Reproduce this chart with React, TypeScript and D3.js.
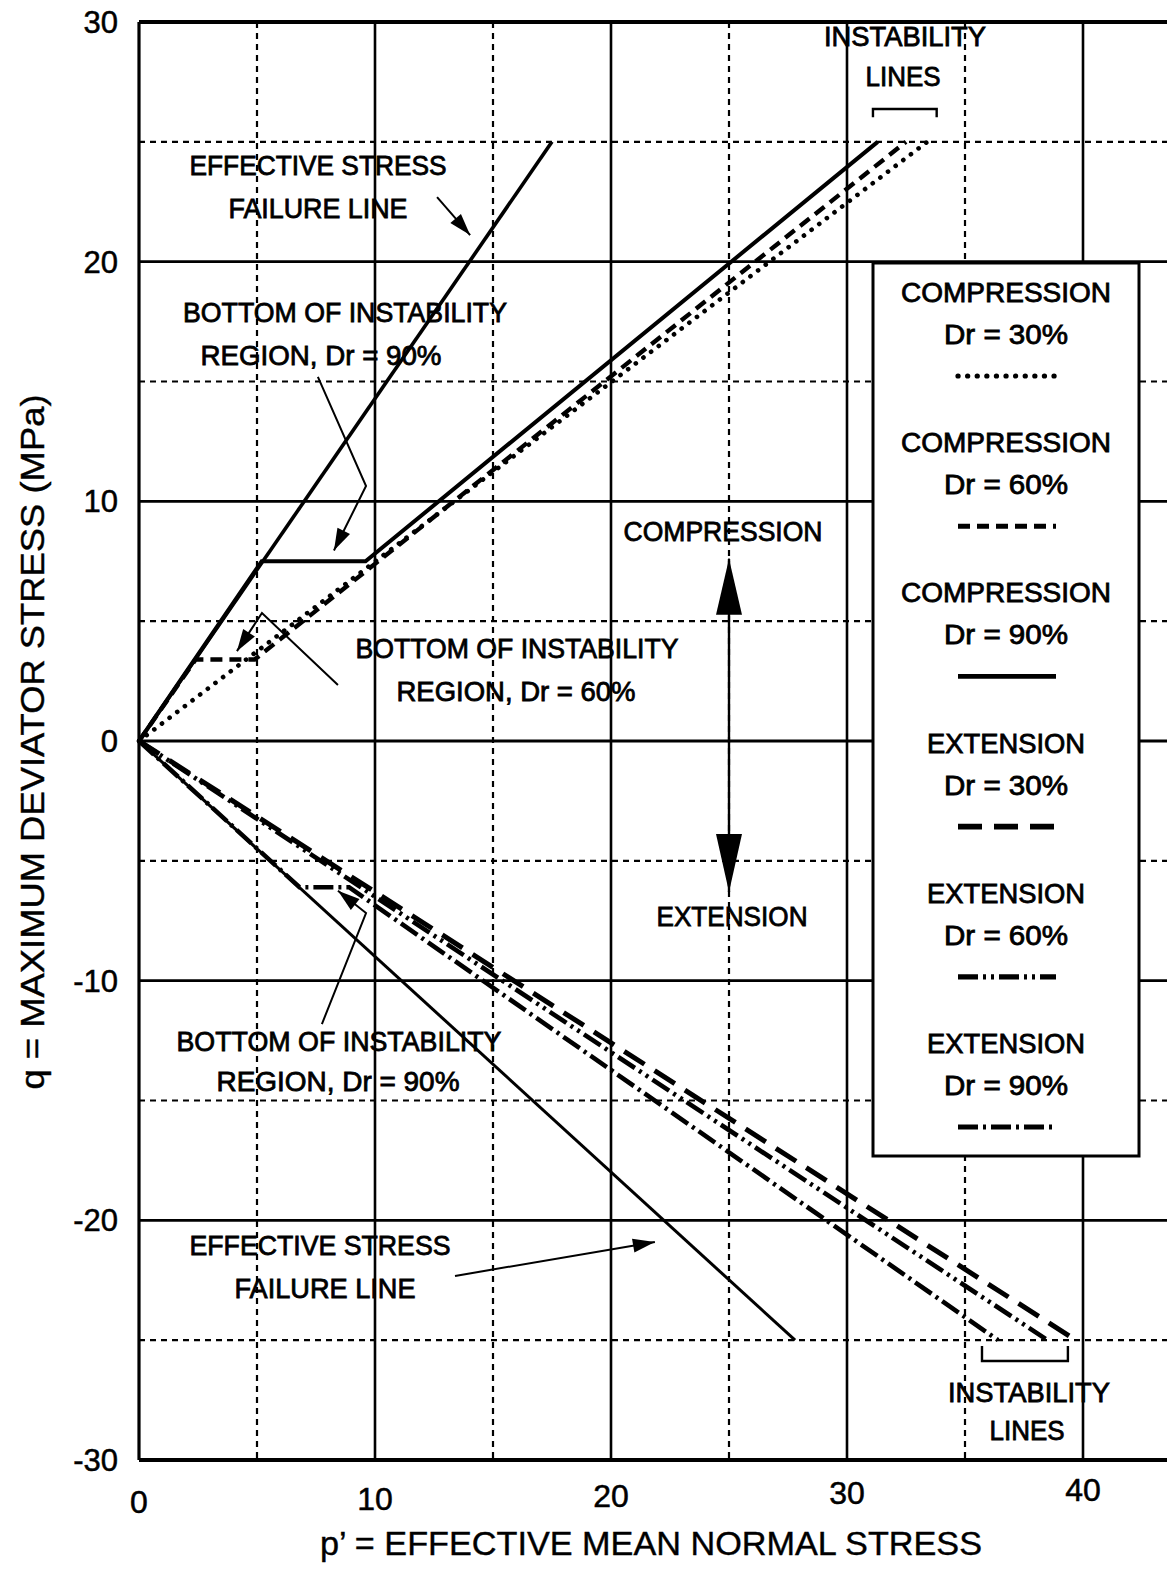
import React from 'react';
import * as d3 from 'd3';

type Pt = [number, number];

// axis ticks
const xTicks = [0, 10, 20, 30, 40];
const yTicks = [30, 20, 10, 0, -10, -20, -30];
const xMinor = [5, 15, 25, 35];
const yMinor = [25, 15, 5, -5, -15, -25];

// curves (p', q) in MPa
const compFailure: Pt[] = [[0, 0], [17.5, 25]];
const comp30: Pt[] = [[0, 0], [33.4, 25]];
const comp60: Pt[] = [[0, 0], [2.4, 3.4], [4.9, 3.4], [32.5, 25]];
const comp90: Pt[] = [[0, 0], [5.2, 7.5], [9.6, 7.5], [31.3, 25]];
const extFailure: Pt[] = [[0, 0], [27.8, -25]];
const ext30: Pt[] = [[0, 0], [39.7, -25]];
const ext60: Pt[] = [[0, 0], [38.5, -25]];
const ext90: Pt[] = [[0, 0], [6.8, -6.1], [8.9, -6.1], [36.4, -25]];

const legendNames = ['COMPRESSION', 'COMPRESSION', 'COMPRESSION', 'EXTENSION', 'EXTENSION', 'EXTENSION'];
const legendDr = ['Dr = 30%', 'Dr = 60%', 'Dr = 90%', 'Dr = 30%', 'Dr = 60%', 'Dr = 90%'];

// pointer arrows (data coords)
const arrowFailTop: Pt[] = [[12.63, 22.69], [14.03, 21.11]];
const arrowBottom90Top: Pt[] = [[7.58, 15.19], [9.62, 10.64], [8.26, 7.95]];
const arrowBottom60: Pt[] = [[8.43, 2.34], [5.21, 5.34], [4.15, 3.75]];
const arrowBottom90Ext: Pt[] = [[7.75, -11.81], [9.62, -7.18], [8.43, -6.25]];
const arrowFailExt: Pt[] = [[13.39, -22.32], [21.86, -20.9]];
const dirArrow: Pt[] = [[25, 7.6], [25, -6.3]];
const bracketTop: Pt[] = [[31.1, 26.03], [31.1, 26.37], [33.8, 26.37], [33.8, 26.03]];
const bracketBottom: Pt[] = [[35.72, -25.24], [35.72, -25.87], [39.36, -25.87], [39.36, -25.24]];

// annotation text: [text, centerX px, centerY px, width px]
const notes: [string, number, number, number][] = [
  ['INSTABILITY', 905, 36, 162],
  ['LINES', 903, 76, 75],
  ['EFFECTIVE STRESS', 318, 165, 257],
  ['FAILURE LINE', 318, 208, 179],
  ['BOTTOM OF INSTABILITY', 345, 312, 324],
  ['REGION, Dr = 90%', 321, 355, 241],
  ['COMPRESSION', 723, 531, 199],
  ['BOTTOM OF INSTABILITY', 517, 648, 323],
  ['REGION, Dr = 60%', 516, 691, 239],
  ['EXTENSION', 732, 916, 151],
  ['BOTTOM OF INSTABILITY', 339, 1041, 325],
  ['REGION, Dr = 90%', 338, 1081, 243],
  ['EFFECTIVE STRESS', 320, 1245, 261],
  ['FAILURE LINE', 325, 1288, 181],
  ['INSTABILITY', 1029, 1392, 162],
  ['LINES', 1027, 1430, 75],
];

const W = 1167;
const H = 1570;
const x = d3.scaleLinear().domain([0, 40]).range([139, 1083]);
const y = d3.scaleLinear().domain([-30, 30]).range([1460, 22]);
const rightEdge = W;

const line = d3.line<Pt>().x(d => x(d[0])).y(d => y(d[1]));

const FONT = '"Liberation Sans", Arial, Helvetica, sans-serif';

const styles = {
  comp30: { strokeWidth: 4.6, dash: '0.1 9.5', cap: 'round' },
  comp60: { strokeWidth: 4.4, dash: '12 7', cap: 'butt' },
  comp90: { strokeWidth: 4, dash: undefined, cap: 'butt' },
  ext30: { strokeWidth: 5, dash: '24 12', cap: 'butt' },
  ext60: { strokeWidth: 4.6, dash: '20 5 3 5 3 5', cap: 'butt' },
  ext90: { strokeWidth: 4.6, dash: '20 5 3 5', cap: 'butt' },
};
const legendStyles = [styles.comp30, styles.comp60, styles.comp90, styles.ext30, styles.ext60, styles.ext90];

function head(pts: Pt[], len: number, half: number) {
  const a = pts[pts.length - 2];
  const b = pts[pts.length - 1];
  const ax = x(a[0]), ay = y(a[1]), bx = x(b[0]), by = y(b[1]);
  const dx = bx - ax, dy = by - ay;
  const L = Math.hypot(dx, dy);
  const ux = dx / L, uy = dy / L;
  const cx = bx - ux * len, cy = by - uy * len;
  return `${bx},${by} ${cx - uy * half},${cy + ux * half} ${cx + uy * half},${cy - ux * half}`;
}

const Arrow: React.FC<{ pts: Pt[]; len?: number; half?: number; w?: number }> = ({ pts, len = 22, half = 7, w = 2 }) => (
  <g>
    <path d={line(pts) || ''} fill="none" stroke="#000" strokeWidth={w} />
    <polygon points={head(pts, len, half)} fill="#000" />
  </g>
);

export default function App() {
  const legendX0 = 873, legendX1 = 1139, legendY0 = 263, legendY1 = 1156;
  const legendCx = 1006;
  return (
    <svg width={W} height={H} style={{ position: 'absolute', left: 0, top: 0, background: '#fff' }} fontFamily={FONT}>
      <rect width={W} height={H} fill="#fff" />
      {/* minor grid */}
      {xMinor.map(v => (
        <line key={'xm' + v} x1={x(v)} x2={x(v)} y1={y(30)} y2={y(-30)} stroke="#000" strokeWidth={2.2} strokeDasharray="6 5" />
      ))}
      {yMinor.map(v => (
        <line key={'ym' + v} x1={x(0)} x2={rightEdge} y1={y(v)} y2={y(v)} stroke="#000" strokeWidth={2.2} strokeDasharray="6 5" />
      ))}
      {/* major grid */}
      {xTicks.map(v => (
        <line key={'xg' + v} x1={x(v)} x2={x(v)} y1={y(30)} y2={y(-30)} stroke="#000" strokeWidth={v === 0 ? 3.2 : 2.6} />
      ))}
      {yTicks.map(v => (
        <line key={'yg' + v} x1={x(0)} x2={rightEdge} y1={y(v)} y2={y(v)} stroke="#000" strokeWidth={Math.abs(v) === 30 ? 3.8 : 2.8} />
      ))}

      {/* curves */}
      <path d={line(compFailure) || ''} fill="none" stroke="#000" strokeWidth={3.6} />
      <path d={line(extFailure) || ''} fill="none" stroke="#000" strokeWidth={3} />
      <path d={line(comp30) || ''} fill="none" stroke="#000" strokeWidth={styles.comp30.strokeWidth} strokeDasharray={styles.comp30.dash} strokeLinecap="round" />
      <path d={line(comp60) || ''} fill="none" stroke="#000" strokeWidth={styles.comp60.strokeWidth} strokeDasharray={styles.comp60.dash} />
      <path d={line(comp90) || ''} fill="none" stroke="#000" strokeWidth={styles.comp90.strokeWidth} />
      <path d={line(ext30) || ''} fill="none" stroke="#000" strokeWidth={styles.ext30.strokeWidth} strokeDasharray={styles.ext30.dash} />
      <path d={line(ext60) || ''} fill="none" stroke="#000" strokeWidth={styles.ext60.strokeWidth} strokeDasharray={styles.ext60.dash} />
      <path d={line(ext90) || ''} fill="none" stroke="#000" strokeWidth={styles.ext90.strokeWidth} strokeDasharray={styles.ext90.dash} />

      {/* brackets */}
      <path d={line(bracketTop) || ''} fill="none" stroke="#000" strokeWidth={2.4} />
      <path d={line(bracketBottom) || ''} fill="none" stroke="#000" strokeWidth={2.4} />

      {/* arrows */}
      <Arrow pts={arrowFailTop} />
      <Arrow pts={arrowBottom90Top} />
      <Arrow pts={arrowBottom60} />
      <Arrow pts={arrowBottom90Ext} />
      <Arrow pts={arrowFailExt} />
      <Arrow pts={dirArrow} len={58} half={13} w={2.2} />
      <Arrow pts={[dirArrow[1], dirArrow[0]]} len={56} half={13} w={2.2} />

      {/* annotations */}
      {notes.map(([t, cx, cy, w], i) => (
        <text key={'n' + i} x={cx} y={cy + 10} textAnchor="middle" fontSize={27} textLength={w} lengthAdjust="spacingAndGlyphs" stroke="#000" strokeWidth={0.8}>
          {t}
        </text>
      ))}

      {/* legend */}
      <rect x={legendX0} y={legendY0} width={legendX1 - legendX0} height={legendY1 - legendY0} fill="#fff" stroke="#000" strokeWidth={3} />
      {legendNames.map((n, i) => {
        const top = 292 + i * 150.2;
        const st = legendStyles[i];
        return (
          <g key={'lg' + i}>
            <text x={legendCx} y={top + 10} textAnchor="middle" fontSize={27} textLength={n === 'COMPRESSION' ? 210 : 158} lengthAdjust="spacingAndGlyphs" stroke="#000" strokeWidth={0.8}>{n}</text>
            <text x={legendCx} y={top + 52} textAnchor="middle" fontSize={27} textLength={124} lengthAdjust="spacingAndGlyphs" stroke="#000" strokeWidth={0.8}>{legendDr[i]}</text>
            <line x1={958} x2={1056} y1={top + 84} y2={top + 84} stroke="#000" strokeWidth={st.strokeWidth + 0.6} strokeDasharray={st.dash} strokeLinecap={st.cap as any} />
          </g>
        );
      })}

      {/* tick labels */}
      {yTicks.map(v => (
        <text key={'yl' + v} x={118} y={y(v) + 11} textAnchor="end" fontSize={31} stroke="#000" strokeWidth={0.5}>{v}</text>
      ))}
      {xTicks.map(v => (
        <text key={'xl' + v} x={x(v)} y={1513 - v * 0.3} textAnchor="middle" fontSize={32} stroke="#000" strokeWidth={0.5}>{v}</text>
      ))}

      {/* axis titles */}
      <text x={651} y={1555} textAnchor="middle" fontSize={34} textLength={662} lengthAdjust="spacingAndGlyphs" stroke="#000" strokeWidth={0.4}>p’ = EFFECTIVE MEAN NORMAL STRESS</text>
      <text transform={`translate(44, 742) rotate(-90)`} textAnchor="middle" fontSize={33} textLength={695} lengthAdjust="spacingAndGlyphs" stroke="#000" strokeWidth={0.4}>q = MAXIMUM DEVIATOR STRESS (MPa)</text>
    </svg>
  );
}
